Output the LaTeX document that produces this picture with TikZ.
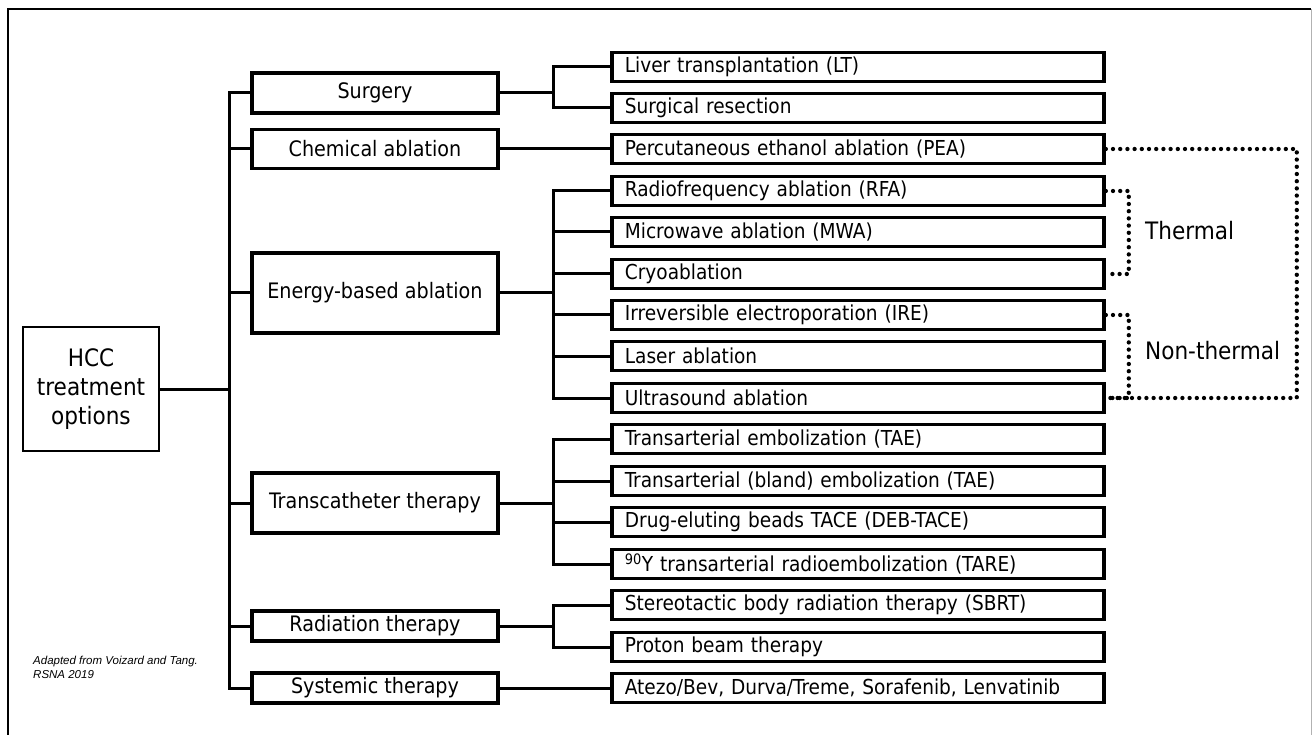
\documentclass[tikz,border=0pt]{standalone}
\usepackage{fontspec}
\setmainfont{DejaVu Sans Condensed}
\newfontfamily\notefont{Liberation Sans}
\usepackage{tikz}

\begin{document}
\begin{tikzpicture}[x=1pt,y=-1pt,
	main/.style={draw,line width=2.8pt,minimum width=136pt,minimum height=124pt,align=center,inner sep=0pt,font=\fontsize{24}{29}\selectfont},
	cat/.style={draw,line width=3.8pt,minimum width=246pt,inner sep=0pt,font=\fontsize{21.3}{26}\selectfont},
	item/.style={draw,line width=3.8pt,anchor=west,text width=466pt,inner xsep=13pt,inner ysep=0pt,minimum height=29pt,align=left,font=\fontsize{20.6}{22}\selectfont},
	link/.style={line width=3pt},
	side/.style={anchor=west,inner sep=0pt,font=\fontsize{24}{26}\selectfont},
	dotline/.style={line width=4.3pt,line cap=round,dash pattern=on 0pt off 7.2pt}]
	\useasboundingbox (0,0) rectangle (1312,735);
	\draw[line width=1.8pt] (8,735) -- (8,9) -- (1311,9);
	\draw[line width=0.8pt,gray!60] (1311,9) -- (1311,735);

	\node[main] (hcc) at (91,389) {HCC\\treatment\\options};

	\node[cat,minimum height=40pt] (surg) at (375,93) {Surgery};
	\node[cat,minimum height=39pt] (chem) at (375,149) {Chemical ablation};
	\node[cat,minimum height=80pt] (ener) at (375,293) {Energy-based ablation};
	\node[cat,minimum height=60pt] (tran) at (375,503) {Transcatheter therapy};
	\node[cat,minimum height=30pt] (radi) at (375,626) {Radiation therapy};
	\node[cat,minimum height=30pt] (syst) at (375,688) {Systemic therapy};

	\node[item] (lt) at (610,67) {Liver transplantation (LT)};
	\node[item] (sr) at (610,108) {Surgical resection};
	\node[item] (pea) at (610,149) {Percutaneous ethanol ablation (PEA)};
	\node[item] (rfa) at (610,191) {Radiofrequency ablation (RFA)};
	\node[item] (mwa) at (610,232) {Microwave ablation (MWA)};
	\node[item] (cryo) at (610,274) {Cryoablation};
	\node[item] (ire) at (610,315) {Irreversible electroporation (IRE)};
	\node[item] (las) at (610,356) {Laser ablation};
	\node[item] (us) at (610,398) {Ultrasound ablation};
	\node[item] (tae) at (610,439) {Transarterial embolization (TAE)};
	\node[item] (bland) at (610,481) {Transarterial (bland) embolization (TAE)};
	\node[item] (deb) at (610,522) {Drug-eluting beads TACE (DEB-TACE)};
	\node[item] (tare) at (610,564) {\textsuperscript{90}Y transarterial radioembolization (TARE)};
	\node[item] (sbrt) at (610,605) {Stereotactic body radiation therapy (SBRT)};
	\node[item] (pbt) at (610,647) {Proton beam therapy};
	\node[item] (ate) at (610,688) {Atezo/Bev, Durva/Treme, Sorafenib, Lenvatinib};

	\coordinate (tk) at (229,0);
	\coordinate (br) at (553,0);

	% trunk
	\draw[link] (hcc.east) -- (hcc.east -| tk);
	\draw[link] (surg.west) -- (surg.west -| tk) -- (syst.west -| tk) -- (syst.west);
	\foreach \c in {chem,ener,tran,radi}
		\draw[link] (\c.west) -- (\c.west -| tk);

	% branches
	\draw[link] (surg.east) -- (surg.east -| br);
	\draw[link] (lt.west) -- (lt.west -| br) -- (sr.west -| br) -- (sr.west);
	\draw[link] (chem.east) -- (pea.west);
	\draw[link] (ener.east) -- (ener.east -| br);
	\draw[link] (rfa.west) -- (rfa.west -| br) -- (us.west -| br) -- (us.west);
	\foreach \c in {mwa,cryo,ire,las}
		\draw[link] (\c.west) -- (\c.west -| br);
	\draw[link] (tran.east) -- (tran.east -| br);
	\draw[link] (tae.west) -- (tae.west -| br) -- (tare.west -| br) -- (tare.west);
	\foreach \c in {bland,deb}
		\draw[link] (\c.west) -- (\c.west -| br);
	\draw[link] (radi.east) -- (radi.east -| br);
	\draw[link] (sbrt.west) -- (sbrt.west -| br) -- (pbt.west -| br) -- (pbt.west);
	\draw[link] (syst.east) -- (ate.west);

	% dotted brackets
	\draw[dotline] (pea.east) -- ++(191,0) |- (us.east);
	\draw[dotline] (rfa.east) -- ++(23,0) |- (cryo.east);
	\draw[dotline] (ire.east) -- ++(23,0) |- (us.east);
	\node[side] (therm) at (1145,231) {Thermal};
	\node[side] (nontherm) at (1145,351) {Non-thermal};

	\node[anchor=west,align=left,inner sep=0pt,font=\notefont\itshape\fontsize{11.5}{14}\selectfont] (note) at (33,667) {Adapted from Voizard and Tang.\\RSNA 2019};
\end{tikzpicture}
\end{document}
